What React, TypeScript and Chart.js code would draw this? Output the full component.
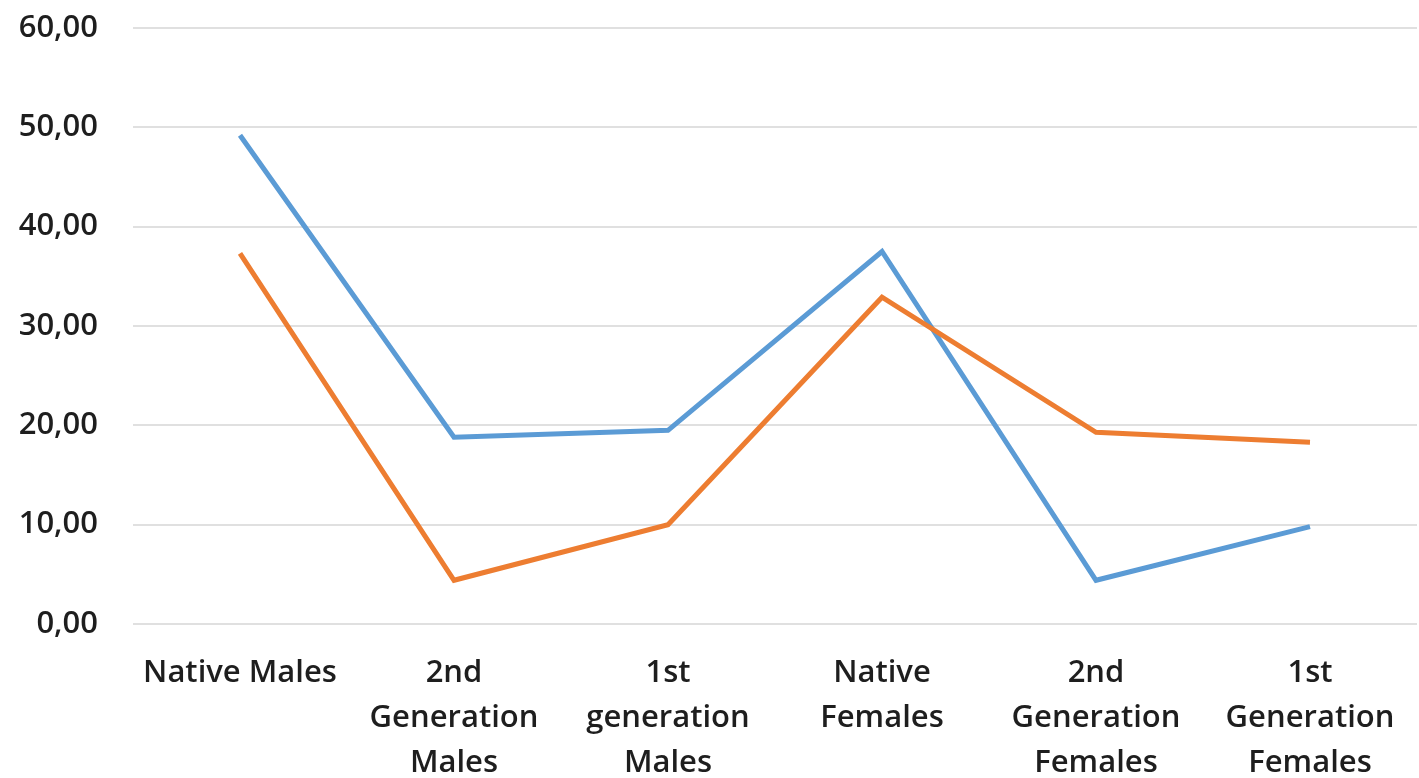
import React, { useEffect, useRef } from "react";
import { Chart, registerables } from "chart.js";

Chart.register(...registerables);

const categories: string[][] = [
  ["Native Males"],
  ["2nd", "Generation", "Males"],
  ["1st", "generation", "Males"],
  ["Native", "Females"],
  ["2nd", "Generation", "Females"],
  ["1st", "Generation", "Females"],
];

const blueSeries = [49.2, 18.8, 19.5, 37.5, 4.4, 9.8];
const orangeSeries = [37.3, 4.4, 10.0, 32.9, 19.3, 18.3];

const yMin = 0;
const yMax = 60;
const yStep = 10;

const fmt = (v: number) => v.toFixed(2).replace(".", ",");

export default function App() {
  const canvasRef = useRef<HTMLCanvasElement | null>(null);

  useEffect(() => {
    if (!canvasRef.current) return;
    const font = { family: "'Open Sans', sans-serif", size: 31, lineHeight: 1.45, weight: "600" as const };
    const chart = new Chart(canvasRef.current, {
      type: "line",
      data: {
        labels: categories,
        datasets: [
          {
            label: "Series 1",
            data: blueSeries,
            borderColor: "#5B9BD5",
            backgroundColor: "#5B9BD5",
            borderWidth: 5,
            pointRadius: 0,
            tension: 0,
            order: 1,
          },
          {
            label: "Series 2",
            data: orangeSeries,
            borderColor: "#ED7D31",
            backgroundColor: "#ED7D31",
            borderWidth: 5,
            pointRadius: 0,
            tension: 0,
            order: 0,
          },
        ],
      },
      options: {
        animation: false,
        responsive: true,
        maintainAspectRatio: false,
        layout: { padding: { left: 15, top: 28, right: 2, bottom: 0 } },
        plugins: { legend: { display: false }, tooltip: { enabled: false } },
        scales: {
          x: {
            offset: true,
            grid: { display: false, drawTicks: false },
            border: { display: false },
            ticks: {
              font,
              color: "#1e1e1e",
              padding: 27,
              maxRotation: 0,
              autoSkip: false,
            },
            afterFit: (scale: any) => {
              scale.height = 154;
              scale.paddingLeft = 0;
              scale.paddingRight = 0;
            },
          },
          y: {
            min: yMin,
            max: yMax,
            grid: { color: "#e0e0e0", lineWidth: 2, drawTicks: false },
            border: { display: false },
            ticks: {
              stepSize: yStep,
              font,
              color: "#1e1e1e",
              padding: 35,
              callback: (v: any) => fmt(Number(v)),
            },
            afterFit: (scale: any) => {
              scale.width = 118;
              scale.paddingTop = 0;
              scale.paddingBottom = 0;
            },
          },
        },
      },
    });
    return () => chart.destroy();
  }, []);

  return (
    <div
      style={{
        position: "fixed",
        left: 0,
        top: 0,
        width: 1419,
        height: 778,
        overflow: "hidden",
        background: "#fff",
      }}
    >
      <div style={{ position: "relative", width: 1419, height: 778 }}>
        <canvas ref={canvasRef} />
      </div>
    </div>
  );
}
